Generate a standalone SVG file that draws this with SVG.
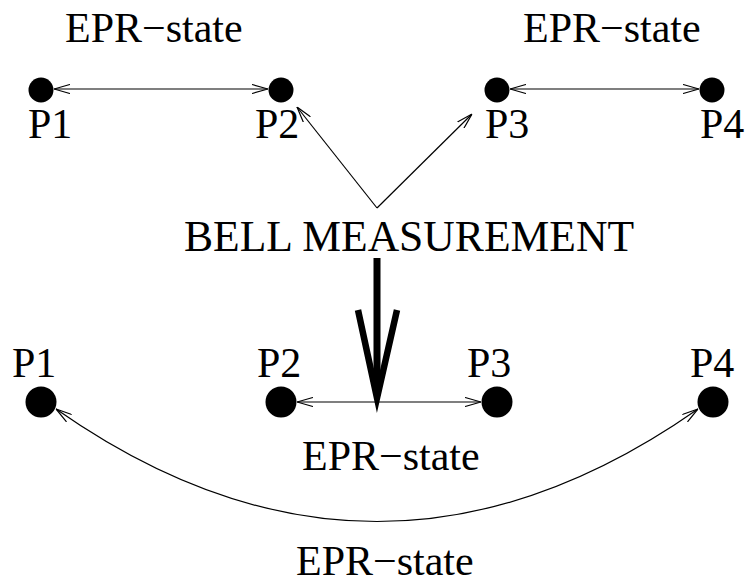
<svg xmlns="http://www.w3.org/2000/svg" width="746" height="584" viewBox="0 0 746 584">
<style>
text{font-family:"Liberation Serif","Times New Roman",serif;font-size:42px;fill:#000}
.c{stroke:#000;stroke-width:1.2;fill:none}
.dot{fill:#000}
</style>
<defs>
<marker id="a" viewBox="0 0 16 10" refX="16" refY="5" markerWidth="16" markerHeight="10" markerUnits="userSpaceOnUse" orient="auto-start-reverse">
<path d="M0,0.5 L16,5 L0,9.5" fill="none" stroke="#000" stroke-width="1.2"/>
</marker>
</defs>
<rect width="746" height="584" fill="#fff"/>
<g id="labels-top">
<text x="65" y="42">EPR−state</text>
<text x="523" y="42">EPR−state</text>
</g>
<g id="p1-top"><circle class="dot" cx="41" cy="90" r="12.5"/><text x="28" y="138">P1</text></g>
<g id="p2-top"><circle class="dot" cx="281" cy="90" r="12.5"/><text x="255" y="138">P2</text></g>
<g id="p3-top"><circle class="dot" cx="497" cy="90" r="12.5"/><text x="485" y="138">P3</text></g>
<g id="p4-top"><circle class="dot" cx="712" cy="90" r="12.5"/><text x="700" y="138">P4</text></g>
<g id="bell"><text x="184" y="251" style="font-size:43.6px">BELL MEASUREMENT</text></g>
<g id="p1-bot"><circle class="dot" cx="41" cy="402" r="15.5"/><text x="12" y="377">P1</text></g>
<g id="p2-bot"><circle class="dot" cx="281" cy="402" r="15.5"/><text x="257" y="377">P2</text></g>
<g id="p3-bot"><circle class="dot" cx="497" cy="402" r="15.5"/><text x="467" y="377">P3</text></g>
<g id="p4-bot"><circle class="dot" cx="713" cy="402" r="15.5"/><text x="690" y="377">P4</text></g>
<g id="labels-bot">
<text x="302" y="470">EPR−state</text>
<text x="296" y="575">EPR−state</text>
</g>
<g id="connectors">
<line class="c" x1="54" y1="89" x2="268" y2="89" marker-start="url(#a)" marker-end="url(#a)"/>
<line class="c" x1="510" y1="89" x2="699" y2="89" marker-start="url(#a)" marker-end="url(#a)"/>
<line class="c" x1="377" y1="208" x2="297" y2="107" marker-end="url(#a)"/>
<line class="c" x1="377" y1="208" x2="472" y2="114" marker-end="url(#a)"/>
<line class="c" x1="297" y1="402" x2="481" y2="402" marker-start="url(#a)" marker-end="url(#a)"/>
<path class="c" d="M56,409 Q377,634 698,409" marker-start="url(#a)" marker-end="url(#a)"/>
<line x1="377" y1="258" x2="377" y2="392" stroke="#000" stroke-width="7"/>
<polyline points="358,310 377,398 397,310" fill="none" stroke="#000" stroke-width="6.5" stroke-miterlimit="20"/>
</g>
</svg>
